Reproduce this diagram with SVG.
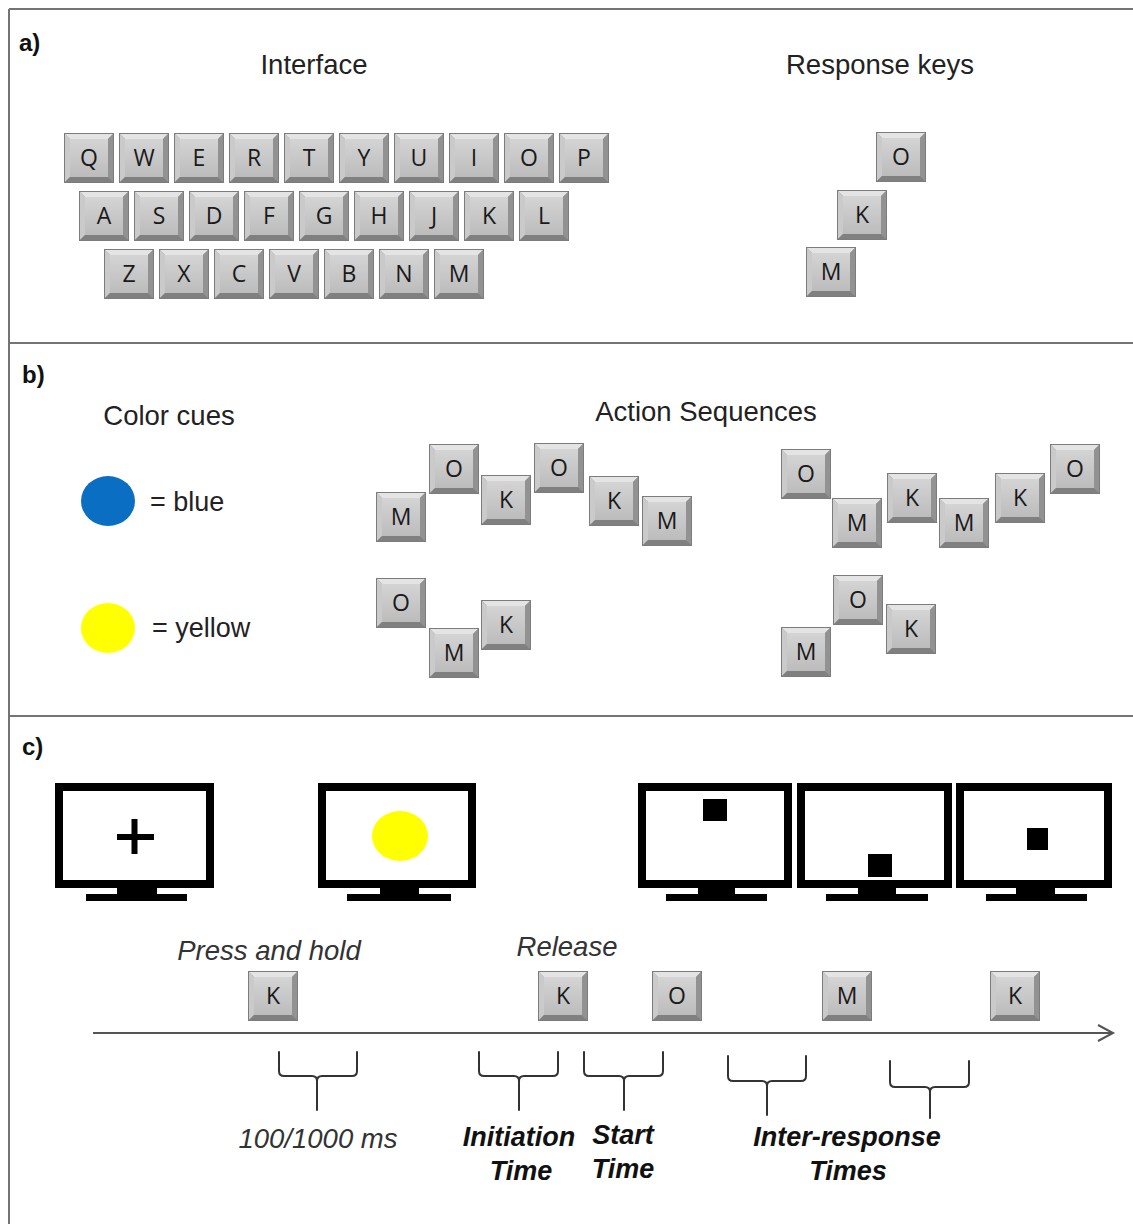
<svg xmlns="http://www.w3.org/2000/svg" xmlns:xlink="http://www.w3.org/1999/xlink" width="1133" height="1224" viewBox="0 0 1133 1224">
<defs>
<linearGradient id="face" x1="0" y1="0" x2="0" y2="1">
<stop offset="0" stop-color="#d4d4d4"/>
<stop offset="1" stop-color="#bcbcbc"/>
</linearGradient>
<g id="key">
<rect x="0" y="0" width="50" height="50" fill="#9a9a9a"/>
<polygon points="0,0 50,0 44,6 6,6" fill="#e4e4e4"/>
<polygon points="0,0 6,6 6,44 0,50" fill="#cacaca"/>
<polygon points="50,0 50,50 44,44 44,6" fill="#929292"/>
<polygon points="0,50 6,44 44,44 50,50" fill="#808080"/>
<rect x="6" y="6" width="38" height="38" fill="url(#face)"/>
<rect x="0.5" y="0.5" width="49" height="49" fill="none" stroke="#7c7c7c" stroke-width="1"/>
</g>
<marker id="arrow" viewBox="0 0 20 20" refX="16" refY="10" markerWidth="20" markerHeight="20" markerUnits="userSpaceOnUse" orient="auto">
<path d="M1,2 L16,10 L1,18" fill="none" stroke="#555" stroke-width="2"/>
</marker>
</defs>
<style>
.kl{font-family:"Open Sans","DejaVu Sans",sans-serif;font-size:23px;fill:#1a1a1a;text-anchor:middle}
.title{font-family:"Liberation Sans",Arial,sans-serif;font-size:27.5px;fill:#222;text-anchor:middle}
.panel{font-family:"Liberation Sans",Arial,sans-serif;font-size:24px;font-weight:bold;fill:#111}
.cue{font-family:"Liberation Sans",Arial,sans-serif;font-size:27px;fill:#222}
.it{font-family:"Liberation Sans",Arial,sans-serif;font-size:27.5px;font-style:italic;fill:#333;text-anchor:middle}
.bi{font-family:"Liberation Sans",Arial,sans-serif;font-size:27px;font-style:italic;font-weight:bold;fill:#111;text-anchor:middle}
.frame{stroke:#747474;stroke-width:2;fill:none}
.mon{fill:none;stroke:#000;stroke-width:8}
.brace{fill:none;stroke:#333;stroke-width:2;stroke-linecap:round}
</style>
<rect width="1133" height="1224" fill="#fff"/>

<g id="frame">
<line class="frame" x1="9" y1="9" x2="1133" y2="9"/>
<line class="frame" x1="9" y1="9" x2="9" y2="1224"/>
<line class="frame" x1="9" y1="343" x2="1133" y2="343"/>
<line class="frame" x1="9" y1="716" x2="1133" y2="716"/>
</g>

<!-- Panel a -->
<g id="panel-a">
<text class="panel" x="19" y="51">a)</text>
<text class="title" x="314" y="74">Interface</text>
<text class="title" x="880" y="74">Response keys</text>
</g>
<g id="keyboard">
<g id="k-Q" transform="translate(64,133)"><use href="#key"/><text class="kl" x="25" y="33">Q</text></g>
<g id="k-W" transform="translate(119,133)"><use href="#key"/><text class="kl" x="25" y="33">W</text></g>
<g id="k-E" transform="translate(174,133)"><use href="#key"/><text class="kl" x="25" y="33">E</text></g>
<g id="k-R" transform="translate(229,133)"><use href="#key"/><text class="kl" x="25" y="33">R</text></g>
<g id="k-T" transform="translate(284,133)"><use href="#key"/><text class="kl" x="25" y="33">T</text></g>
<g id="k-Y" transform="translate(339,133)"><use href="#key"/><text class="kl" x="25" y="33">Y</text></g>
<g id="k-U" transform="translate(394,133)"><use href="#key"/><text class="kl" x="25" y="33">U</text></g>
<g id="k-I" transform="translate(449,133)"><use href="#key"/><text class="kl" x="25" y="33">I</text></g>
<g id="k-O" transform="translate(504,133)"><use href="#key"/><text class="kl" x="25" y="33">O</text></g>
<g id="k-P" transform="translate(559,133)"><use href="#key"/><text class="kl" x="25" y="33">P</text></g>
<g id="k-A" transform="translate(79,191)"><use href="#key"/><text class="kl" x="25" y="33">A</text></g>
<g id="k-S" transform="translate(134,191)"><use href="#key"/><text class="kl" x="25" y="33">S</text></g>
<g id="k-D" transform="translate(189,191)"><use href="#key"/><text class="kl" x="25" y="33">D</text></g>
<g id="k-F" transform="translate(244,191)"><use href="#key"/><text class="kl" x="25" y="33">F</text></g>
<g id="k-G" transform="translate(299,191)"><use href="#key"/><text class="kl" x="25" y="33">G</text></g>
<g id="k-H" transform="translate(354,191)"><use href="#key"/><text class="kl" x="25" y="33">H</text></g>
<g id="k-J" transform="translate(409,191)"><use href="#key"/><text class="kl" x="25" y="33">J</text></g>
<g id="k-K" transform="translate(464,191)"><use href="#key"/><text class="kl" x="25" y="33">K</text></g>
<g id="k-L" transform="translate(519,191)"><use href="#key"/><text class="kl" x="25" y="33">L</text></g>
<g id="k-Z" transform="translate(104,249)"><use href="#key"/><text class="kl" x="25" y="33">Z</text></g>
<g id="k-X" transform="translate(159,249)"><use href="#key"/><text class="kl" x="25" y="33">X</text></g>
<g id="k-C" transform="translate(214,249)"><use href="#key"/><text class="kl" x="25" y="33">C</text></g>
<g id="k-V" transform="translate(269,249)"><use href="#key"/><text class="kl" x="25" y="33">V</text></g>
<g id="k-B" transform="translate(324,249)"><use href="#key"/><text class="kl" x="25" y="33">B</text></g>
<g id="k-N" transform="translate(379,249)"><use href="#key"/><text class="kl" x="25" y="33">N</text></g>
<g id="k-M" transform="translate(434,249)"><use href="#key"/><text class="kl" x="25" y="33">M</text></g>
</g>
<g id="response-keys">
<g id="rk-O" transform="translate(876,132)"><use href="#key"/><text class="kl" x="25" y="33">O</text></g>
<g id="rk-K" transform="translate(837,190)"><use href="#key"/><text class="kl" x="25" y="33">K</text></g>
<g id="rk-M" transform="translate(806,247)"><use href="#key"/><text class="kl" x="25" y="33">M</text></g>
</g>

<!-- Panel b -->
<g id="panel-b">
<text class="panel" x="22" y="383">b)</text>
<text class="title" x="169" y="425">Color cues</text>
<text class="title" x="706" y="421">Action Sequences</text>
</g>
<g id="cue-blue">
<ellipse cx="108" cy="501" rx="27" ry="25" fill="#0a6fc2"/>
<text class="cue" x="150" y="511">= blue</text>
</g>
<g id="cue-yellow">
<ellipse cx="108" cy="628" rx="27" ry="25" fill="#ffff00"/>
<text class="cue" x="152" y="637">= yellow</text>
</g>
<g id="seq-blue-1">
<g id="s1-1" transform="translate(376,492)"><use href="#key"/><text class="kl" x="25" y="33">M</text></g>
<g id="s1-2" transform="translate(429,444)"><use href="#key"/><text class="kl" x="25" y="33">O</text></g>
<g id="s1-3" transform="translate(481,475)"><use href="#key"/><text class="kl" x="25" y="33">K</text></g>
<g id="s1-4" transform="translate(534,443)"><use href="#key"/><text class="kl" x="25" y="33">O</text></g>
<g id="s1-5" transform="translate(589,476)"><use href="#key"/><text class="kl" x="25" y="33">K</text></g>
<g id="s1-6" transform="translate(642,496)"><use href="#key"/><text class="kl" x="25" y="33">M</text></g>
</g>
<g id="seq-blue-2">
<g id="s2-1" transform="translate(781,449)"><use href="#key"/><text class="kl" x="25" y="33">O</text></g>
<g id="s2-2" transform="translate(832,498)"><use href="#key"/><text class="kl" x="25" y="33">M</text></g>
<g id="s2-3" transform="translate(887,473)"><use href="#key"/><text class="kl" x="25" y="33">K</text></g>
<g id="s2-4" transform="translate(939,498)"><use href="#key"/><text class="kl" x="25" y="33">M</text></g>
<g id="s2-5" transform="translate(995,473)"><use href="#key"/><text class="kl" x="25" y="33">K</text></g>
<g id="s2-6" transform="translate(1050,444)"><use href="#key"/><text class="kl" x="25" y="33">O</text></g>
</g>
<g id="seq-yellow-1">
<g id="s3-1" transform="translate(376,578)"><use href="#key"/><text class="kl" x="25" y="33">O</text></g>
<g id="s3-2" transform="translate(429,628)"><use href="#key"/><text class="kl" x="25" y="33">M</text></g>
<g id="s3-3" transform="translate(481,600)"><use href="#key"/><text class="kl" x="25" y="33">K</text></g>
</g>
<g id="seq-yellow-2">
<g id="s4-1" transform="translate(781,627)"><use href="#key"/><text class="kl" x="25" y="33">M</text></g>
<g id="s4-2" transform="translate(833,575)"><use href="#key"/><text class="kl" x="25" y="33">O</text></g>
<g id="s4-3" transform="translate(886,604)"><use href="#key"/><text class="kl" x="25" y="33">K</text></g>
</g>

<!-- Panel c -->
<g id="panel-c">
<text class="panel" x="22" y="755">c)</text>
</g>
<g id="monitor-1">
<rect class="mon" x="59" y="787" width="151" height="97"/>
<rect x="117" y="886" width="40" height="10" fill="#000"/>
<rect x="86" y="894" width="101" height="7" fill="#000"/>
<rect x="117" y="834" width="37" height="6" fill="#000"/>
<rect x="131.5" y="819" width="6" height="35" fill="#000"/>
</g>
<g id="monitor-2">
<rect class="mon" x="322" y="787" width="150" height="97"/>
<rect x="380" y="886" width="39" height="10" fill="#000"/>
<rect x="347" y="894" width="104" height="7" fill="#000"/>
<ellipse cx="400" cy="836" rx="28" ry="25" fill="#ffff00"/>
</g>
<g id="monitor-3">
<rect class="mon" x="642" y="787" width="146" height="97"/>
<rect x="698" y="886" width="37" height="10" fill="#000"/>
<rect x="666" y="894" width="101" height="7" fill="#000"/>
<rect x="703" y="799" width="24" height="22" fill="#000"/>
</g>
<g id="monitor-4">
<rect class="mon" x="801" y="787" width="147" height="97"/>
<rect x="858" y="886" width="38" height="10" fill="#000"/>
<rect x="826" y="894" width="102" height="7" fill="#000"/>
<rect x="868" y="854" width="24" height="23" fill="#000"/>
</g>
<g id="monitor-5">
<rect class="mon" x="960" y="787" width="148" height="97"/>
<rect x="1016" y="886" width="39" height="10" fill="#000"/>
<rect x="986" y="894" width="101" height="7" fill="#000"/>
<rect x="1027" y="828" width="21" height="22" fill="#000"/>
</g>

<g id="timeline-keys">
<g id="t-K1" transform="translate(248,971)"><use href="#key"/><text class="kl" x="25" y="33">K</text></g>
<g id="t-K2" transform="translate(538,971)"><use href="#key"/><text class="kl" x="25" y="33">K</text></g>
<g id="t-O" transform="translate(652,971)"><use href="#key"/><text class="kl" x="25" y="33">O</text></g>
<g id="t-M" transform="translate(822,971)"><use href="#key"/><text class="kl" x="25" y="33">M</text></g>
<g id="t-K3" transform="translate(990,971)"><use href="#key"/><text class="kl" x="25" y="33">K</text></g>
</g>
<g id="timeline-labels">
<text class="it" x="269" y="960">Press and hold</text>
<text class="it" x="567" y="956">Release</text>
<text class="it" x="318" y="1148">100/1000 ms</text>
<text class="bi" x="519" y="1146">Initiation</text>
<text class="bi" x="521" y="1180">Time</text>
<text class="bi" x="623" y="1144">Start</text>
<text class="bi" x="623" y="1178">Time</text>
<text class="bi" x="847" y="1146">Inter-response</text>
<text class="bi" x="848" y="1180">Times</text>
</g>

<g id="connectors">
<line x1="93" y1="1033" x2="1113" y2="1033" stroke="#555" stroke-width="2" marker-end="url(#arrow)"/>
<path class="brace" d="M279,1052 L279,1071 Q279,1076 284,1076 L312,1076 Q317,1076 317,1081 L317,1110 M317,1081 Q317,1076 322,1076 L352,1076 Q357,1076 357,1071 L357,1052"/>
<path class="brace" d="M479,1052 L479,1071 Q479,1076 484,1076 L514,1076 Q519,1076 519,1081 L519,1110 M519,1081 Q519,1076 524,1076 L553,1076 Q558,1076 558,1071 L558,1052"/>
<path class="brace" d="M584,1052 L584,1071 Q584,1076 589,1076 L619,1076 Q624,1076 624,1081 L624,1110 M624,1081 Q624,1076 629,1076 L658,1076 Q663,1076 663,1071 L663,1052"/>
<path class="brace" d="M728,1056 L728,1076 Q728,1081 733,1081 L762,1081 Q767,1081 767,1086 L767,1115 M767,1086 Q767,1081 772,1081 L801,1081 Q806,1081 806,1076 L806,1056"/>
<path class="brace" d="M890,1061 L890,1082 Q890,1087 895,1087 L925,1087 Q930,1087 930,1092 L930,1118 M930,1092 Q930,1087 935,1087 L964,1087 Q969,1087 969,1082 L969,1061"/>
</g>
</svg>
